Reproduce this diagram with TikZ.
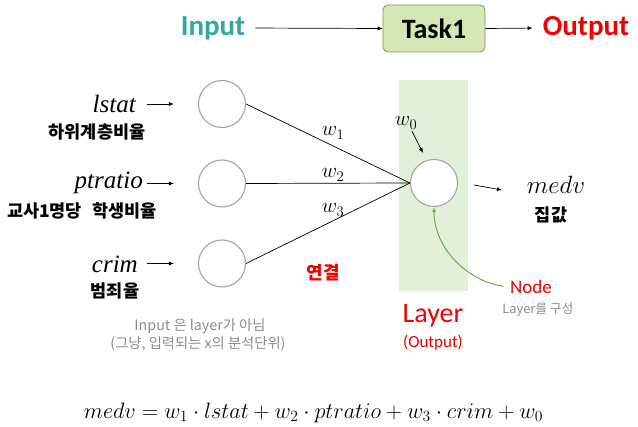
\RequirePackage{fix-cm}
\documentclass[tikz,border=0pt]{standalone}
\usepackage{fontspec}
\setmainfont{Carlito}
\newfontfamily\kr{Noto Sans CJK KR}
\newfontfamily\tnr{Liberation Serif}
\usetikzlibrary{arrows.meta}
\definecolor{tealc}{RGB}{52,168,158}
\definecolor{redc}{RGB}{240,0,0}
\definecolor{taskfill}{RGB}{214,230,180}
\definecolor{taskdraw}{RGB}{120,150,90}
\definecolor{bandc}{RGB}{226,239,217}
\definecolor{greenc}{RGB}{112,173,71}
\definecolor{circc}{RGB}{165,165,165}
\definecolor{noteg}{RGB}{140,140,140}
\tikzset{
  arr/.style={-{Latex[length=5pt,width=4pt]}, line width=0.7pt, black},
  garr/.style={-{Latex[length=5pt,width=4pt]}, line width=1pt, greenc},
  title/.style={font=\fontsize{29}{33}\selectfont\bfseries, inner sep=0pt},
  taskbox/.style={draw=taskdraw, fill=taskfill, line width=0.8pt, rounded corners=5pt,
    minimum width=102pt, minimum height=47pt, inner sep=0pt,
    font=\fontsize{28}{32}\selectfont\bfseries},
  neuron/.style={circle, draw=circc, fill=white, line width=1.1pt, minimum size=47pt, inner sep=0pt},
  var/.style={font=\tnr\itshape\fontsize{25}{28}\selectfont, inner sep=0pt},
  krlab/.style={font=\kr\bfseries\fontsize{17.5}{20}\selectfont, inner sep=0pt},
  wlab/.style={font=\fontsize{21}{24}\selectfont, inner sep=0pt},
  note/.style={font=\kr\fontsize{14.3}{17}\selectfont, text=noteg, inner sep=0pt},
}
\begin{document}
\begin{tikzpicture}[x=1pt,y=-1pt]
\useasboundingbox (0,0) rectangle (638,427);
\fill[white] (0,0) rectangle (638,427);
% layer band
\fill[bandc] (399,80) rectangle (468,291);
% top row
\node[title, text=tealc] (in) at (213,28) {Input};
\node[taskbox] (task) at (434,28.5) {Task1};
\node[title, text=redc] (out) at (586,28) {Output};
\draw[arr, shorten <=10pt] (in.east) -- (task.west);
\draw[arr, shorten >=10pt] (task.east) -- (out.west);
% neurons
\node[neuron] (i1) at (222,104) {};
\node[neuron] (i2) at (222,183.5) {};
\node[neuron] (i3) at (222,263.5) {};
\node[neuron] (o) at (434,183) {};
% connections
\draw[line width=0.7pt] (i1.east) -- (o.west);
\draw[line width=0.7pt] (i2.east) -- (o.west);
\draw[line width=0.7pt] (i3.east) -- (o.west);
% input labels
\node[var, anchor=east] (l1) at (136,104) {lstat};
\node[var, anchor=east] (l2) at (143,183) {ptratio};
\node[var, anchor=east] (l3) at (138,264) {crim};
\draw[arr, shorten <=11pt, shorten >=24pt] (i1.west -| l1.east) -- (i1.west);
\draw[arr, shorten <=4pt, shorten >=24pt] (i2.west -| l2.east) -- (i2.west);
\draw[arr, shorten <=9pt, shorten >=24pt] (i3.west -| l3.east) -- (i3.west);
\node[krlab] (k1) at (97,132) {하위계층비율};
\node[krlab] (k2) at (82,211) {교사1명당\hspace{0.6em}학생비율};
\node[krlab] (k3) at (115,291) {범죄율};
% weights
\node[wlab] (w1) at (333,133) {$w_1$};
\node[wlab] (w2) at (333,175) {$w_2$};
\node[wlab] (w3) at (333,210) {$w_3$};
\node[wlab] (w0) at (406,123) {$w_0$};
\draw[arr] ([shift={(6,2)}]w0.south) -- ([shift={(-11,-6)}]o.north);
% output
\node[font=\fontsize{25}{28}\selectfont, inner sep=0pt] (mv) at (556,185) {$medv$};
\node[krlab] (jg) at (551,215) {집값};
\coordinate (ma) at (474,185);
\coordinate (mb) at (502,190);
\draw[arr] (ma) -- (mb);
% node annotation
\node[font=\fontsize{19}{22}\selectfont, text=redc, inner sep=0pt] (nd) at (531,287) {Node};
\node[note, font=\kr\fontsize{12.8}{15}\selectfont] (lg) at (538,310) {Layer를 구성};
\draw[garr, shorten <=7pt] (nd.west) .. controls (470,282) and (434,250) .. (o.south);
% layer labels
\node[font=\fontsize{28}{32}\selectfont, text=redc, inner sep=0pt] (ly) at (433,316) {Layer};
\node[font=\fontsize{17}{20}\selectfont, text=redc, inner sep=0pt] (lo) at (433,343) {(Output)};
\node[font=\kr\bfseries\fontsize{18}{21}\selectfont, text=redc, inner sep=0pt] (yg) at (323,273) {연결};
% notes
\node[note] (n1) at (200,326) {Input 은 layer가 아님};
\node[note] (n2) at (198,344) {(그냥, 입력되는 x의 분석단위)};
% equation
\node[font=\fontsize{22.3}{26}\selectfont, inner sep=0pt] (eq) at (313.5,413)
  {$medv = w_1\cdot lstat + w_2\cdot ptratio + w_3\cdot crim + w_0$};
\end{tikzpicture}
\end{document}
